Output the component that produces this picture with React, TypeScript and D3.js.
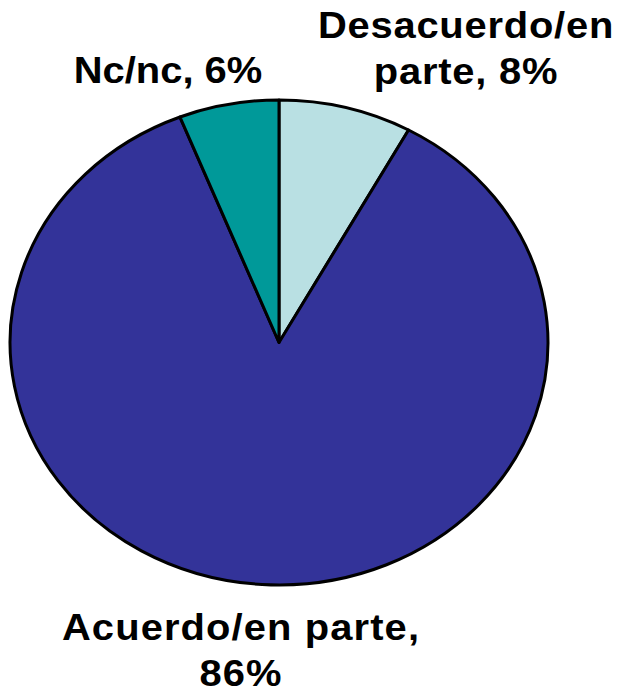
import React from "react";
import * as d3 from "d3";

const categories = ["Desacuerdo/en parte", "Acuerdo/en parte", "Nc/nc"];
const values = [8, 86, 6];
const colors = ["#B9E0E3", "#333399", "#009999"];
const labelLines = [
  ["Desacuerdo/en", "parte, 8%"],
  ["Acuerdo/en parte,", "86%"],
  ["Nc/nc, 6%"],
];

const W = 620;
const H = 691;
const cx = 279;
const cy = 342.5;
const r = 242.5;
const sx = 1.109;

const labelPos = [
  { x: 466, y: 38, ls: 0.7 },
  { x: 241, y: 640, ls: 1 },
  { x: 168, y: 83, ls: 0 },
];

export default function App() {
  const data = categories.map((c, i) => ({ c, v: values[i], color: colors[i] }));
  const pie = d3
    .pie<any>()
    .sort(null)
    .value((d) => d.v)
    .startAngle(0)
    .endAngle(2 * Math.PI);
  const arcs = pie(data);
  const arc = d3.arc<any>().innerRadius(0).outerRadius(r);
  return (
    <svg
      width={W}
      height={H}
      style={{ position: "absolute", left: 0, top: 0, background: "#fff" }}
    >
      <g transform={`translate(${cx},${cy}) scale(${sx},1)`}>
        {arcs.map((a, i) => (
          <path
            key={i}
            d={arc(a) as string}
            fill={a.data.color}
            stroke="#000"
            strokeWidth={3}
            strokeLinejoin="round"
            vectorEffect="non-scaling-stroke"
          />
        ))}
      </g>
      {labelLines.map((lines, i) => (
        <text
          key={i}
          transform={`translate(${labelPos[i].x},${labelPos[i].y}) scale(${sx},1)`}
          textAnchor="middle"
          fontFamily="'Liberation Sans', Arial, sans-serif"
          fontWeight="bold"
          fontSize={36}
          letterSpacing={labelPos[i].ls}
          fill="#000"
        >
          {lines.map((l, j) => (
            <tspan key={j} x={0} dy={j === 0 ? 0 : 46}>
              {l}
            </tspan>
          ))}
        </text>
      ))}
    </svg>
  );
}
